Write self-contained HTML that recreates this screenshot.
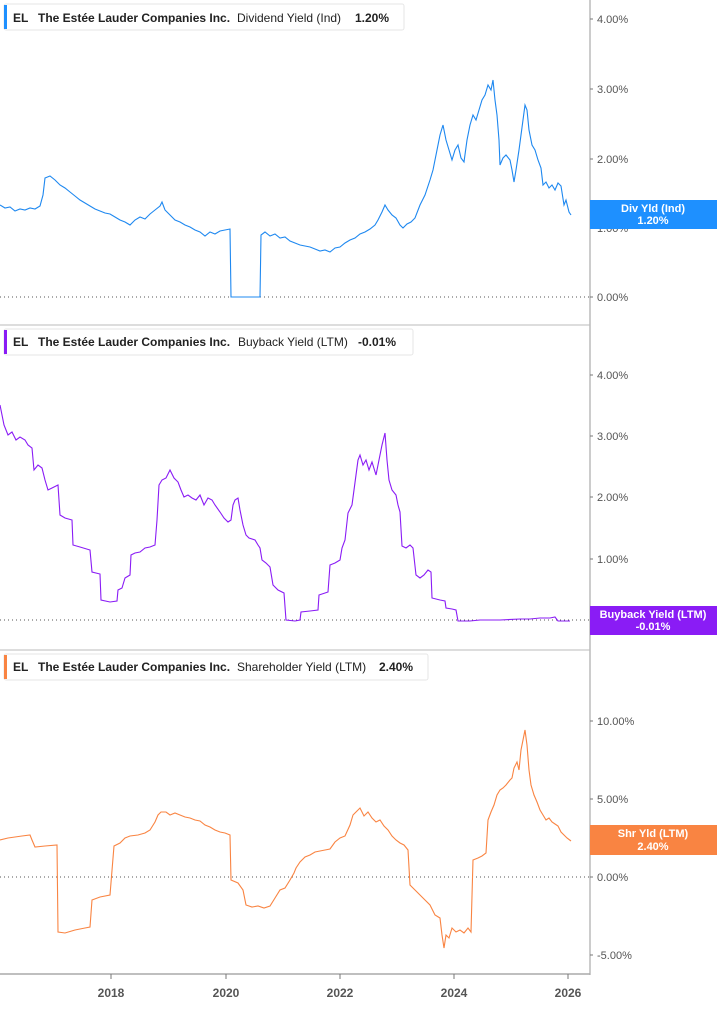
<!DOCTYPE html>
<html><head><meta charset="utf-8"><style>
html,body{margin:0;padding:0;background:#fff;}
body{width:717px;height:1005px;overflow:hidden;font-family:"Liberation Sans",Arial,sans-serif;}
</style></head><body>
<svg width="717" height="1005" xmlns="http://www.w3.org/2000/svg" font-family="Liberation Sans, Arial, sans-serif">
<rect width="717" height="1005" fill="#fff"/>
<!-- axis and separators -->
<line x1="590" y1="0" x2="590" y2="975" stroke="#999" stroke-width="1"/>
<line x1="0" y1="325" x2="590" y2="325" stroke="#bbb"/>
<line x1="0" y1="650" x2="590" y2="650" stroke="#bbb"/>
<line x1="0" y1="974" x2="590" y2="974" stroke="#aaa" stroke-width="1.5"/>
<!-- zero lines -->
<line x1="0" y1="297" x2="590" y2="297" stroke="#555" stroke-dasharray="1,3"/>
<line x1="0" y1="620" x2="590" y2="620" stroke="#555" stroke-dasharray="1,3"/>
<line x1="0" y1="877" x2="590" y2="877" stroke="#555" stroke-dasharray="1,3"/>
<!-- y tick labels -->
<g font-size="11" fill="#555">
<text x="597" y="23">4.00%</text><text x="597" y="93">3.00%</text><text x="597" y="163">2.00%</text><text x="597" y="232">1.00%</text><text x="597" y="301">0.00%</text>
<text x="597" y="379">4.00%</text><text x="597" y="440">3.00%</text><text x="597" y="501">2.00%</text><text x="597" y="563">1.00%</text><text x="597" y="624">0.00%</text>
<text x="597" y="725">10.00%</text><text x="597" y="803">5.00%</text><text x="597" y="881">0.00%</text><text x="597" y="959">-5.00%</text>
</g>
<g stroke="#777">
<line x1="590" y1="19" x2="593" y2="19"/><line x1="590" y1="89" x2="593" y2="89"/><line x1="590" y1="159" x2="593" y2="159"/><line x1="590" y1="228" x2="593" y2="228"/><line x1="590" y1="297" x2="593" y2="297"/>
<line x1="590" y1="375" x2="593" y2="375"/><line x1="590" y1="436" x2="593" y2="436"/><line x1="590" y1="497" x2="593" y2="497"/><line x1="590" y1="559" x2="593" y2="559"/><line x1="590" y1="620" x2="593" y2="620"/>
<line x1="590" y1="721" x2="593" y2="721"/><line x1="590" y1="799" x2="593" y2="799"/><line x1="590" y1="877" x2="593" y2="877"/><line x1="590" y1="955" x2="593" y2="955"/>
<line x1="111" y1="974" x2="111" y2="979"/><line x1="226" y1="974" x2="226" y2="979"/><line x1="340" y1="974" x2="340" y2="979"/><line x1="454" y1="974" x2="454" y2="979"/><line x1="568" y1="974" x2="568" y2="979"/>
</g>
<g font-size="12" font-weight="bold" fill="#555" text-anchor="middle">
<text x="111" y="997">2018</text><text x="226" y="997">2020</text><text x="340" y="997">2022</text><text x="454" y="997">2024</text><text x="568" y="997">2026</text>
</g>
<!-- series -->
<polyline fill="none" stroke="#1e88f0" stroke-width="1.1" points="0,205 5,208 10,207 15,211 20,209 25,210 30,208 35,209 40,206 43,195 45,178 50,176 55,180 60,185 65,188 70,192 75,196 80,200 85,203 90,206 95,209 100,211 105,213 110,214 115,217 120,220 125,222 130,225 135,220 140,217 145,219 150,214 155,210 160,206 162,202 165,210 170,215 175,220 180,222 185,225 190,227 195,230 200,232 205,236 210,232 215,234 220,231 225,230 230,229 231,297 260,297 261,235 265,232 270,236 275,234 280,238 285,237 290,241 295,243 300,245 305,246 310,247 315,249 320,251 325,250 330,252 335,248 340,247 345,243 350,240 355,238 360,234 365,232 370,229 375,225 378,220 382,212 385,205 388,210 392,215 396,218 400,225 403,228 407,224 411,222 415,218 420,205 425,195 430,180 433,170 437,150 440,135 443,125 446,140 449,150 452,160 455,150 458,145 461,158 464,162 467,140 470,125 473,115 476,120 479,110 482,100 485,95 488,85 491,90 493,80 495,100 497,115 499,140 500,165 503,158 506,155 510,160 512,170 514,182 516,170 519,150 521,135 523,120 525,105 527,110 529,130 532,145 535,150 538,160 541,168 543,185 546,182 549,188 552,185 555,190 558,183 561,186 564,205 566,200 569,212 571,215"/>
<polyline fill="none" stroke="#8a1cf5" stroke-width="1.1" points="0,405 4,425 8,435 12,432 16,440 20,437 25,440 28,445 32,448 34,470 38,465 42,468 45,480 48,490 52,488 58,485 60,515 65,518 72,520 73,545 80,547 90,550 92,572 100,574 101,600 110,602 117,601 118,590 122,588 125,578 130,575 131,555 135,553 140,552 145,548 150,547 155,545 157,520 159,485 162,480 166,478 170,470 174,478 178,482 181,490 184,497 188,495 192,498 196,500 200,495 204,505 208,498 212,500 215,505 220,512 224,518 228,522 231,520 233,505 235,500 238,498 240,510 243,525 246,535 249,538 255,540 258,545 260,548 262,560 266,563 270,567 273,585 278,590 284,593 286,620 295,621 300,620 301,612 310,611 318,610 319,595 325,593 328,592 330,565 335,563 340,560 342,548 345,540 348,513 352,505 354,490 356,475 358,460 360,455 363,465 366,460 369,470 372,462 376,475 379,460 382,445 385,433 387,460 389,480 392,490 396,495 398,505 400,512 402,546 406,548 410,545 413,548 416,575 420,578 424,575 428,570 431,572 432,598 440,600 445,601 446,608 452,609 456,610 458,621 470,621 480,620 500,620 520,619 530,619 540,618 550,618 555,617 558,621 570,621"/>
<polyline fill="none" stroke="#f98442" stroke-width="1.1" points="0,840 8,838 15,837 22,836 30,835 32,840 35,847 45,846 57,845 58,932 65,933 75,930 85,928 90,927 92,900 100,897 110,895 114,846 120,843 125,838 130,836 138,835 145,833 150,830 155,822 158,815 161,812 166,812 170,815 175,813 180,815 185,817 190,818 195,820 200,821 205,825 210,827 215,830 220,832 225,833 230,835 231,880 238,883 243,890 246,905 252,907 258,906 264,908 270,906 275,898 280,890 285,888 290,880 294,873 296,868 300,862 305,857 310,855 315,852 320,851 325,850 330,849 335,842 340,838 345,836 350,825 353,815 356,812 360,808 364,816 368,812 372,818 376,822 380,820 384,826 388,830 392,836 396,840 400,843 404,845 408,850 410,885 415,890 420,895 425,900 430,905 435,915 440,918 442,935 444,948 446,935 449,938 452,928 456,932 460,930 464,933 468,928 471,932 473,860 478,858 482,856 486,853 488,820 491,812 494,805 497,795 500,790 503,788 506,785 510,780 512,778 514,768 517,762 519,770 521,750 523,740 525,730 527,745 529,770 531,785 534,795 537,802 540,810 543,815 546,820 549,818 552,822 555,824 558,826 561,832 564,835 567,838 571,841"/>
<!-- right labels -->
<rect x="590" y="200" width="127" height="29" fill="#1e90ff"/>
<text x="653" y="212" font-size="11" font-weight="bold" fill="#fff" text-anchor="middle">Div Yld (Ind)</text>
<text x="653" y="224" font-size="11" font-weight="bold" fill="#fff" text-anchor="middle">1.20%</text>
<rect x="590" y="606" width="127" height="29" fill="#8a1cf5"/>
<text x="653" y="618" font-size="11" font-weight="bold" fill="#fff" text-anchor="middle">Buyback Yield (LTM)</text>
<text x="653" y="630" font-size="11" font-weight="bold" fill="#fff" text-anchor="middle">-0.01%</text>
<rect x="590" y="825" width="127" height="30" fill="#f98442"/>
<text x="653" y="837" font-size="11" font-weight="bold" fill="#fff" text-anchor="middle">Shr Yld (LTM)</text>
<text x="653" y="850" font-size="11" font-weight="bold" fill="#fff" text-anchor="middle">2.40%</text>
<!-- headers -->
<g font-size="12" font-weight="bold" fill="#222">
<rect x="4" y="4" width="400" height="26" rx="2" fill="#fff" stroke="#e6e6e6"/>
<rect x="4" y="5" width="3" height="24" fill="#1e90ff"/>
<text x="13" y="22">EL</text><text x="38" y="22">The Estée Lauder Companies Inc.</text><text x="237" y="22" font-weight="normal">Dividend Yield (Ind)</text><text x="355" y="22">1.20%</text>
<rect x="4" y="329" width="409" height="26" rx="2" fill="#fff" stroke="#e6e6e6"/>
<rect x="4" y="330" width="3" height="24" fill="#8a1cf5"/>
<text x="13" y="346">EL</text><text x="38" y="346">The Estée Lauder Companies Inc.</text><text x="238" y="346" font-weight="normal">Buyback Yield (LTM)</text><text x="358" y="346">-0.01%</text>
<rect x="4" y="654" width="424" height="26" rx="2" fill="#fff" stroke="#e6e6e6"/>
<rect x="4" y="655" width="3" height="24" fill="#f98442"/>
<text x="13" y="671">EL</text><text x="38" y="671">The Estée Lauder Companies Inc.</text><text x="237" y="671" font-weight="normal">Shareholder Yield (LTM)</text><text x="379" y="671">2.40%</text>
</g>
</svg>
</body></html>
